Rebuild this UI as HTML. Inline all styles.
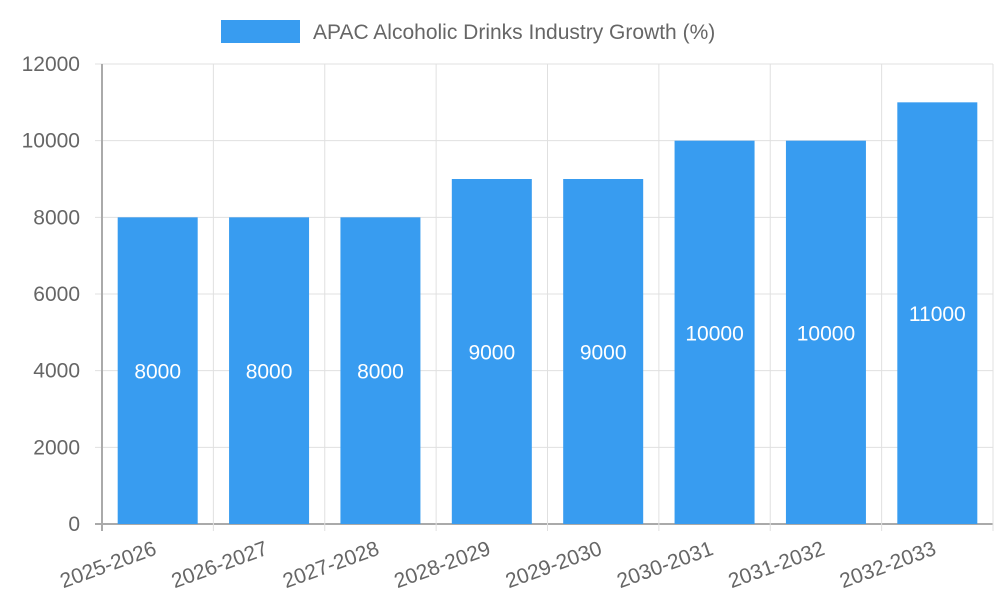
<!DOCTYPE html>
<html><head><meta charset="utf-8"><style>
body{margin:0;background:#fff;}
svg text{font-family:"Liberation Sans",sans-serif;fill:#666;}
</style></head><body>
<svg id="c" width="1000" height="600">
<rect x="221" y="20" width="79" height="23" fill="#389cf0"/>
<text x="313" y="39" font-size="21">APAC Alcoholic Drinks Industry Growth (%)</text>
<g id="grid"></g><g id="bars"></g><g id="labels"></g>
</svg>
<script>
const categories=["2025-2026","2026-2027","2027-2028","2028-2029","2029-2030","2030-2031","2031-2032","2032-2033"];
const values=[8000,8000,8000,9000,9000,10000,10000,11000];
const yTicks=[0,2000,4000,6000,8000,10000,12000];
const NS="http://www.w3.org/2000/svg";
const L=102,R=993,T=64,B=524,yMax=12000;
const bw=(R-L)/categories.length;
const y=v=>B-(v/yMax)*(B-T);
const x=i=>L+i*bw;
function mk(tag,attrs,parent){const e=document.createElementNS(NS,tag);for(const k in attrs)e.setAttribute(k,attrs[k]);document.getElementById(parent).appendChild(e);return e;}
yTicks.forEach(t=>{
 const l=mk('line',{x1:95,x2:R,y1:y(t),y2:y(t),stroke:t===0?'#aaa':'#e0e0e0','stroke-width':t===0?2:1},'grid');
 
 
 const tx=mk('text',{x:80,y:y(t)+7,'text-anchor':'end','font-size':21},'grid');
 tx.textContent=t;
 
 
});
for(let i=0;i<=categories.length;i++){
 const l=mk('line',{x1:x(i),x2:x(i),y1:T,y2:531,stroke:i===0?'#aaa':'#e0e0e0','stroke-width':i===0?2:1},'grid');
 
 
}
categories.forEach((c,i)=>{
 const cx=x(i)+bw/2, w=80;
 const r=mk('rect',{x:cx-w/2,y:y(values[i]),width:w,height:B-y(values[i]),fill:'#389cf0'},'bars');
 
 
 const v=mk('text',{x:cx,y:(y(values[i])+B)/2+8,'text-anchor':'middle','font-size':21,style:'fill:#fff'},'labels');
 v.textContent=values[i];
 
 
 const t=mk('text',{x:cx,y:554,'text-anchor':'end','font-size':21,transform:`rotate(-20 ${cx} 554)`},'labels');
 t.textContent=c;
 
 
});
</script>
</body></html>
